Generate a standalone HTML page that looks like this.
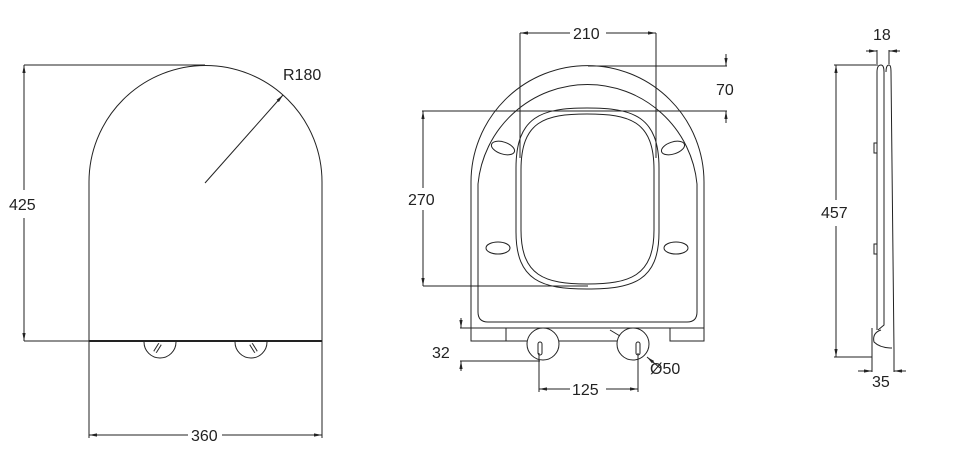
<!DOCTYPE html>
<html><head><style>html,body{margin:0;padding:0;background:#fff}svg{display:block}text{font-family:"Liberation Sans",sans-serif;font-size:16px;fill:#222}</style></head>
<body>
<svg width="960" height="459" viewBox="0 0 960 459" xmlns="http://www.w3.org/2000/svg">
<defs><marker id="a" viewBox="0 0 10 10" refX="10" refY="5" markerWidth="8" markerHeight="8" orient="auto-start-reverse"><path d="M0,3 L10,5 L0,7 z" fill="#222"/></marker></defs>
<g fill="none" stroke="#222" stroke-width="1">
<!-- left view -->
<path d="M89,341 L89,182 A116.5,116.5 0 0 1 322,182 L322,341"/>
<line x1="89" y1="341" x2="322" y2="341" stroke-width="2"/>
<line x1="205" y1="183" x2="283" y2="95" marker-end="url(#a)"/>
<path d="M144,342 A16,16 0 0 0 176,342"/><path d="M235,342 A16,16 0 0 0 267,342"/>
<line x1="155" y1="352" x2="160" y2="344" stroke-width="4"/><line x1="155" y1="352" x2="160" y2="344" stroke="#fff" stroke-width="2"/>
<line x1="256" y1="352" x2="251" y2="344" stroke-width="4"/><line x1="256" y1="352" x2="251" y2="344" stroke="#fff" stroke-width="2"/>
<line x1="24" y1="65" x2="205" y2="65"/><line x1="24" y1="341" x2="89" y2="341"/>
<line x1="24" y1="65" x2="24" y2="190" marker-start="url(#a)"/><line x1="24" y1="218" x2="24" y2="341" marker-end="url(#a)"/>
<line x1="89" y1="341" x2="89" y2="438"/><line x1="322" y1="341" x2="322" y2="438"/>
<line x1="89" y1="435" x2="188" y2="435" marker-start="url(#a)"/><line x1="222" y1="435" x2="322" y2="435" marker-end="url(#a)"/>
<!-- middle view -->
<path d="M471,328 L471,182 A116.5,116.5 0 0 1 704,182 L704,328"/>
<path d="M478,312 L478,184 A110,110 0 0 1 697,184 L697,312 Q697,322 687,322 L488,322 Q478,322 478,312 Z"/>
<line x1="471" y1="328" x2="704" y2="328"/>
<rect x="471" y="328" width="35" height="13"/><rect x="670" y="328" width="34" height="13"/>
<line x1="506" y1="341" x2="527" y2="341"/><line x1="559" y1="341" x2="617" y2="341"/>
<path d="M516,168 C516,116 542,108 587,108 C633,108 659,116 659,168 L659,232 C659,281 633,289 587,289 C542,289 516,281 516,232 Z"/>
<path d="M521,170 C521,121 545,114 587,114 C630,114 654,121 654,170 L654,230 C654,276 630,284 587,284 C545,284 521,276 521,230 Z"/>
<ellipse cx="503" cy="148" rx="12" ry="6" transform="rotate(18 503 148)"/>
<ellipse cx="673" cy="148" rx="12" ry="6" transform="rotate(-18 673 148)"/>
<ellipse cx="498" cy="248" rx="12" ry="6"/><ellipse cx="676" cy="248" rx="12" ry="6"/>
<circle cx="543" cy="344" r="16"/><circle cx="633" cy="344" r="16"/>
<rect x="538" y="342" width="4" height="13" rx="2"/><rect x="636" y="342" width="4" height="13" rx="2"/>
<line x1="520" y1="33" x2="520" y2="158"/><line x1="656" y1="33" x2="656" y2="158"/>
<line x1="520" y1="33" x2="570" y2="33" marker-start="url(#a)"/><line x1="606" y1="33" x2="656" y2="33" marker-end="url(#a)"/>
<line x1="588" y1="66" x2="727" y2="66"/><line x1="422" y1="111" x2="727" y2="111"/>
<line x1="726" y1="54" x2="726" y2="66" marker-end="url(#a)"/><line x1="726" y1="123" x2="726" y2="111" marker-end="url(#a)"/>
<line x1="423" y1="111" x2="423" y2="188" marker-start="url(#a)"/><line x1="423" y1="210" x2="423" y2="286" marker-end="url(#a)"/>
<line x1="423" y1="286" x2="588" y2="286"/>
<line x1="460" y1="328" x2="471" y2="328"/><line x1="460" y1="361" x2="540" y2="361"/>
<line x1="461" y1="318" x2="461" y2="328" marker-end="url(#a)"/><line x1="461" y1="371" x2="461" y2="361" marker-end="url(#a)"/>
<line x1="539" y1="353" x2="539" y2="392"/><line x1="638" y1="353" x2="638" y2="392"/>
<line x1="539" y1="389" x2="570" y2="389" marker-start="url(#a)"/><line x1="606" y1="389" x2="638" y2="389" marker-end="url(#a)"/>
<line x1="660" y1="368" x2="647" y2="357" marker-end="url(#a)"/>
<line x1="610" y1="330" x2="620" y2="336"/>
<!-- right view -->
<path d="M877,72 Q877,65 881,65 Q884,65 884,72 L884,325 L878,330"/>
<path d="M886,72 Q886,65 889,65 Q891,65 891,72 L894,350"/>
<line x1="877" y1="72" x2="877" y2="330"/>
<path d="M881,330 Q872,333 874,342 Q880,348 892,348"/>
<line x1="872" y1="328" x2="872" y2="355"/>
<rect x="874" y="143" width="3" height="10"/><rect x="874" y="244" width="3" height="10"/>
<line x1="834" y1="65" x2="878" y2="65"/><line x1="834" y1="357" x2="872" y2="357"/>
<line x1="836" y1="65" x2="836" y2="200" marker-start="url(#a)"/><line x1="836" y1="226" x2="836" y2="357" marker-end="url(#a)"/>
<line x1="877" y1="50" x2="877" y2="64"/><line x1="889" y1="50" x2="889" y2="64"/>
<line x1="866" y1="51" x2="877" y2="51" marker-end="url(#a)"/><line x1="900" y1="51" x2="889" y2="51" marker-end="url(#a)"/>
<line x1="872" y1="355" x2="872" y2="372"/><line x1="894" y1="350" x2="894" y2="372"/>
<line x1="858" y1="371" x2="872" y2="371" marker-end="url(#a)"/><line x1="906" y1="371" x2="894" y2="371" marker-end="url(#a)"/>
</g>
<text x="283" y="80">R180</text>
<text x="9" y="210">425</text>
<text x="191" y="441">360</text>
<text x="573" y="39">210</text>
<text x="716" y="95">70</text>
<text x="408" y="205">270</text>
<text x="432" y="358">32</text>
<text x="572" y="395">125</text>
<text x="650" y="374">Ø50</text>
<text x="873" y="40">18</text>
<text x="821" y="218">457</text>
<text x="872" y="387">35</text>
</svg>
</body></html>
